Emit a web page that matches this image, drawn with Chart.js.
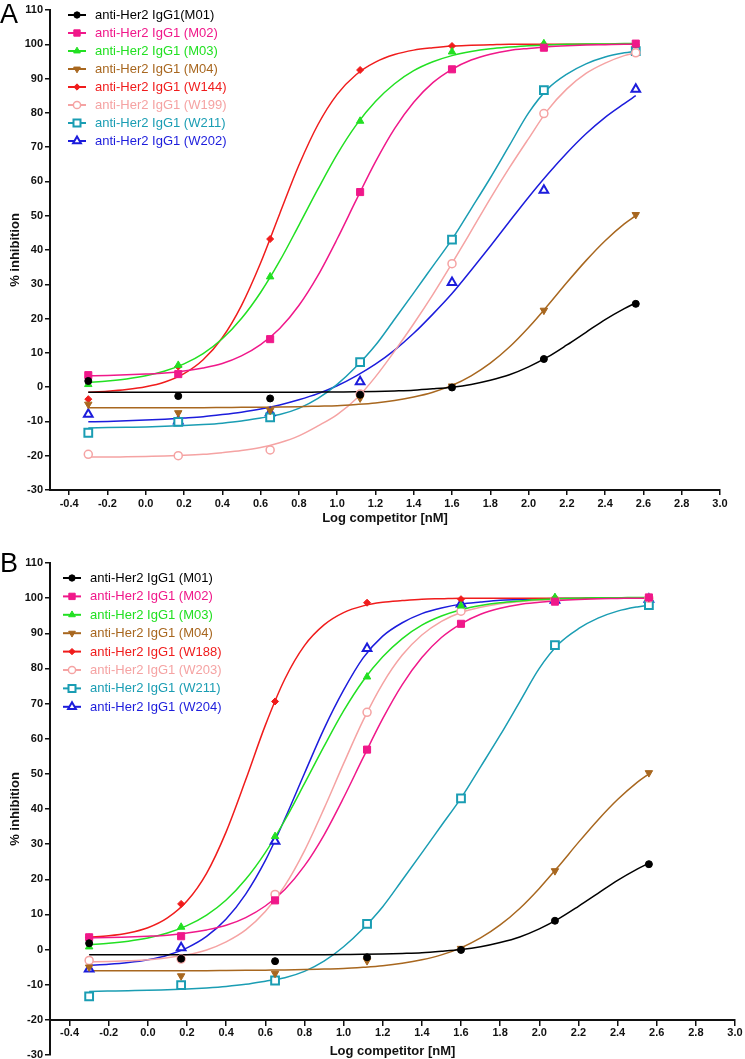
<!DOCTYPE html>
<html lang="en">
<head>
    <meta charset="UTF-8">
    <title>anti-Her2 IgG1 competition</title>
    <script src="https://cdn.jsdelivr.net/npm/chart.js@4.4.0/dist/chart.umd.min.js"></script>
    <style>
        html, body { margin: 0; padding: 0; background: #fff; overflow: hidden; }
        canvas { display: block; }
    </style>
</head>
<body>
    <canvas id="chartA" width="745" height="530"></canvas>
    <canvas id="chartB" width="745" height="535"></canvas>

    <script>
        // x positions (log nM) of the measured points and of the read-off fit curves
        const pointX = [-0.30, 0.17, 0.65, 1.12, 1.60, 2.08, 2.56];
        const curveX = [-0.3, -0.2, -0.1, 0.0, 0.1, 0.2, 0.3, 0.4, 0.5, 0.6, 0.7, 0.8, 0.9, 1.0,
                        1.1, 1.2, 1.3, 1.4, 1.5, 1.6, 1.7, 1.8, 1.9, 2.0, 2.1, 2.2, 2.3, 2.4, 2.5, 2.56];
        const xTickValues = [-0.4, -0.2, 0.0, 0.2, 0.4, 0.6, 0.8, 1.0, 1.2, 1.4, 1.6, 1.8, 2.0, 2.2, 2.4, 2.6, 2.8, 3.0];

        // measured % inhibition
        const m01Pts = [1.8, -2.6, -3.3, -2.2, -0.1, 8.2, 24.3];
        const m02Pts = [3.5, 3.8, 14.0, 56.9, 92.7, 99.0, 100.2];
        const m03Pts = [0.8, 6.4, 32.2, 77.6, 97.8, 100.2, 100.0];
        const m04Pts = [-5.0, -7.5, -6.8, -3.2, 0.3, 22.4, 50.3];
        const w211Pts = [-13.3, -10.1, -8.8, 7.3, 43.0, 86.6, 98.0];
        const w144Pts = [-3.5, 6.0, 43.2, 92.5, 99.5, 100.0, 100.0];
        const w199Pts = [-19.6, -20.0, -18.3, -2.0, 36.0, 79.8, 97.5];
        const w202Pts = [-7.9, -9.9, -7.5, 1.6, 30.5, 57.4, 86.9];
        const w188Pts = [3.5, 13.0, 70.6, 98.7, 99.7, 100.0, 100.0];
        const w203Pts = [-3.1, -2.7, 15.7, 67.5, 96.3, 99.5, 100.0];
        const w204Pts = [-5.5, 0.5, 30.8, 85.7, 98.3, 99.4, 99.7];

        const m01Curve = [-1.5, -1.5, -1.5, -1.5, -1.5, -1.5, -1.5, -1.5, -1.5, -1.5, -1.5, -1.5, -1.45, -1.4,
                          -1.35, -1.25, -1.1, -0.9, -0.5, 0.0, 0.8, 2.0, 3.6, 5.9, 8.8, 12.3, 16.0, 19.7, 22.9, 24.6];
        const m02Curve = [3.3, 3.4, 3.6, 3.8, 4.1, 4.7, 5.6, 6.9, 9.1, 12.4, 17.1, 23.8, 32.6, 43.2,
                          54.6, 65.7, 75.4, 83.1, 88.8, 92.7, 95.4, 97.1, 98.2, 98.8, 99.3, 99.6, 99.8, 99.9, 100, 100];
        const m03Curve = [1.4, 1.8, 2.4, 3.3, 4.7, 6.8, 9.8, 14.1, 20.0, 27.6, 36.8, 47.2, 57.8, 67.9,
                          76.5, 83.3, 88.5, 92.3, 94.9, 96.7, 97.9, 98.7, 99.2, 99.6, 99.8, 100, 100.1, 100.1, 100.2, 100.2];
        const m04Curve = [-6.0, -6.0, -6.0, -6.0, -6.0, -6.0, -6.0, -5.95, -5.9, -5.85, -5.8, -5.7, -5.55, -5.4,
                          -5.05, -4.6, -3.9, -2.9, -1.5, 0.5, 3.3, 7.0, 11.7, 17.4, 23.8, 30.5, 36.9, 42.7, 47.6, 50.0];
        const w211Curve = [-11.9, -11.8, -11.7, -11.6, -11.4, -11.2, -10.9, -10.5, -9.9, -9.0, -8.0, -6.2, -3.3, 0.8,
                           6.0, 12.2, 19.8, 27.5, 35.3, 43.1, 52.0, 61.0, 70.5, 80.0, 87.0, 91.3, 94.3, 96.3, 97.5, 98.0];
        const w144Curve = [-1.5, -1.2, -0.7, 0.1, 1.5, 3.95, 8.0, 14.4, 23.8, 36.2, 50.6, 64.7, 76.6, 85.4,
                           91.2, 94.8, 97.0, 98.3, 99.0, 99.5, 99.7, 99.85, 100, 100, 100, 100, 100, 100, 100, 100];
        const w199Curve = [-20.4, -20.4, -20.3, -20.2, -20.1, -19.9, -19.6, -19.1, -18.5, -17.6, -16.2, -14.2, -11.3, -8.0,
                           -3.4, 3.0, 10.5, 18.5, 27.0, 36.1, 45.5, 55.0, 64.0, 72.5, 80.8, 87.0, 91.5, 94.5, 96.7, 97.5];
        const w202Curve = [-10.1, -10.0, -9.8, -9.6, -9.35, -9.0, -8.6, -8.0, -7.3, -6.4, -5.2, -3.7, -1.9, 0.4,
                           3.3, 6.7, 10.8, 15.7, 21.3, 27.3, 34.1, 41.1, 48.3, 55.4, 62.1, 68.3, 73.9, 78.7, 82.7, 85.0];
        const w188Curve = [3.5, 3.9, 4.7, 6.2, 9.0, 13.8, 21.7, 33.5, 48.3, 63.8, 77.0, 86.5, 92.4, 95.9,
                           97.8, 98.8, 99.3, 99.7, 99.85, 100, 100, 100, 100, 100, 100, 100, 100, 100, 100, 100];
        const w203Curve = [-3.5, -3.4, -3.2, -2.9, -2.3, -1.5, -0.1, 2.2, 5.6, 10.8, 18.2, 28.1, 40.1, 52.9,
                           65.2, 75.7, 83.8, 89.5, 93.4, 95.9, 97.4, 98.4, 99.0, 99.4, 99.6, 99.8, 99.9, 100, 100, 100];
        const w204Curve = [-4.5, -4.2, -3.7, -2.9, -1.6, 0.5, 3.75, 8.7, 15.8, 25.3, 37.2, 50.1, 62.8, 73.8,
                           83.0, 89.2, 93.0, 95.6, 97.2, 98.3, 98.9, 99.4, 99.6, 99.8, 99.9, 99.9, 100, 100, 100, 100];

        const labelsA = ['anti-Her2 IgG1(M01)', 'anti-Her2 IgG1 (M02)', 'anti-Her2 IgG1 (M03)', 'anti-Her2 IgG1 (M04)',
                         'anti-Her2 IgG1 (W144)', 'anti-Her2 IgG1 (W199)', 'anti-Her2 IgG1 (W211)', 'anti-Her2 IgG1 (W202)'];
        const labelsB = ['anti-Her2 IgG1 (M01)', 'anti-Her2 IgG1 (M02)', 'anti-Her2 IgG1 (M03)', 'anti-Her2 IgG1 (M04)',
                         'anti-Her2 IgG1 (W188)', 'anti-Her2 IgG1 (W203)', 'anti-Her2 IgG1 (W211)', 'anti-Her2 IgG1 (W204)'];

        const FONT = '"Liberation Sans", Arial, Helvetica, sans-serif';
        const INK = '#111';

        // marker / colour per legend slot (same in both panels)
        const styles = [
            { color: '#000000', style: 'circle',   radius: 3.5, open: false },
            { color: '#f0188a', style: 'rect',     radius: 5,   open: false },
            { color: '#22e022', style: 'triangle', radius: 4.3, open: false },
            { color: '#a8671f', style: 'triangle', radius: 4.3, open: false, rotation: 180 },
            { color: '#f01c1c', style: 'rectRot',  radius: 3.5, open: false },
            { color: '#f5a3a3', style: 'circle',   radius: 4,   open: true, border: 1.5 },
            { color: '#1a9db3', style: 'rect',     radius: 5.5, open: true, border: 2 },
            { color: '#1c1cdc', style: 'triangle', radius: 5,   open: true, border: 2 }
        ];

        const seriesA = [
            [m01Pts, m01Curve], [m02Pts, m02Curve], [m03Pts, m03Curve], [m04Pts, m04Curve],
            [w144Pts, w144Curve], [w199Pts, w199Curve], [w211Pts, w211Curve], [w202Pts, w202Curve]
        ];
        const seriesB = [
            [m01Pts, m01Curve], [m02Pts, m02Curve], [m03Pts, m03Curve], [m04Pts, m04Curve],
            [w188Pts, w188Curve], [w203Pts, w203Curve], [w211Pts, w211Curve], [w204Pts, w204Curve]
        ];

        function buildDatasets(series, labels) {
            const datasets = [];
            series.forEach(([pts, curve], i) => {
                const s = styles[i];
                datasets.push({
                    label: labels[i] + ' fit',
                    data: curveX.map((x, j) => ({ x: x, y: curve[j] })),
                    borderColor: s.color,
                    borderWidth: 1.5,
                    pointRadius: 0,
                    cubicInterpolationMode: 'monotone',
                    fill: false,
                    order: 2
                });
                datasets.push({
                    label: labels[i],
                    data: pointX.map((x, j) => ({ x: x, y: pts[j] })),
                    showLine: false,
                    pointStyle: s.style,
                    pointRadius: s.radius,
                    pointRotation: s.rotation || 0,
                    pointBackgroundColor: s.open ? '#ffffff' : s.color,
                    pointBorderColor: s.color,
                    pointBorderWidth: s.open ? s.border : 1,
                    order: 1
                });
            });
            return datasets;
        }

        // line + marker legend and the panel letter, drawn on the canvas
        const keyPlugin = {
            id: 'seriesKey',
            afterDraw(chart, args, opts) {
                const ctx = chart.ctx;
                ctx.save();
                ctx.fillStyle = '#000';
                ctx.font = '27px ' + FONT;
                ctx.textBaseline = 'alphabetic';
                ctx.textAlign = 'left';
                ctx.fillText(opts.letter, opts.letterX, opts.letterY);

                opts.labels.forEach((label, i) => {
                    const s = styles[i];
                    const y = opts.top + i * opts.step;
                    ctx.strokeStyle = s.color;
                    ctx.lineWidth = 2;
                    ctx.beginPath();
                    ctx.moveTo(opts.lineX, y);
                    ctx.lineTo(opts.lineX + opts.lineW, y);
                    ctx.stroke();

                    const bw = s.open ? s.border : 1;
                    ctx.lineWidth = bw;
                    ctx.fillStyle = s.open ? '#ffffff' : s.color;
                    Chart.helpers.drawPoint(ctx, {
                        pointStyle: s.style,
                        radius: s.radius * 0.9,
                        rotation: s.rotation || 0,
                        borderWidth: bw
                    }, opts.lineX + opts.lineW / 2, y);

                    ctx.fillStyle = s.color;
                    ctx.font = '13px ' + FONT;
                    ctx.textBaseline = 'middle';
                    ctx.fillText(label, opts.textX, y + 0.5);
                });
                ctx.restore();
            }
        };

        function makeChart(canvasId, series, labels, panel) {
            const tickFont = { family: FONT, size: 11, weight: 'bold' };
            const titleFont = { family: FONT, size: 13, weight: 'bold' };
            return new Chart(document.getElementById(canvasId), {
                type: 'line',
                data: { datasets: buildDatasets(series, labels) },
                options: {
                    responsive: false,
                    animation: false,
                    events: [],
                    layout: { padding: panel.padding },
                    plugins: {
                        legend: { display: false },
                        tooltip: { enabled: false },
                        seriesKey: Object.assign({ labels: labels }, panel.key)
                    },
                    scales: {
                        x: {
                            type: 'linear',
                            position: panel.xPosition,
                            min: -0.5,
                            max: 3.0,
                            afterBuildTicks: scale => { scale.ticks = xTickValues.map(v => ({ value: v })); },
                            afterFit: scale => { scale.height = 40; },
                            ticks: {
                                callback: v => v.toFixed(1),
                                color: INK,
                                font: tickFont,
                                padding: 2,
                                maxRotation: 0,
                                autoSkip: false
                            },
                            grid: { drawOnChartArea: false, drawTicks: true, tickLength: 5, color: INK, lineWidth: 1.5 },
                            border: { color: INK, width: 2 },
                            title: {
                                display: true,
                                text: 'Log competitor [nM]',
                                color: INK,
                                font: titleFont,
                                padding: { top: 0, bottom: panel.xTitlePad }
                            }
                        },
                        y: {
                            min: -30,
                            max: 110,
                            afterFit: scale => { scale.width = 50; },
                            ticks: { stepSize: 10, color: INK, font: tickFont, padding: 2 },
                            grid: { drawOnChartArea: false, drawTicks: true, tickLength: 5, color: INK, lineWidth: 1.5 },
                            border: { color: INK, width: 2 },
                            title: {
                                display: true,
                                text: '% inhibition',
                                color: INK,
                                font: titleFont,
                                padding: { top: 8, bottom: 0 }
                            }
                        }
                    }
                },
                plugins: [keyPlugin]
            });
        }

        makeChart('chartA', seriesA, labelsA, {
            padding: { left: 0, right: 25, top: 10, bottom: 0 },
            xPosition: 'bottom',
            xTitlePad: 4,
            key: { letter: 'A', letterX: 0, letterY: 23, lineX: 68, lineW: 18, textX: 95, top: 15, step: 18 }
        });

        makeChart('chartB', seriesB, labelsB, {
            padding: { left: 0, right: 10, top: 33, bottom: 10 },
            xPosition: { y: -20 },
            xTitlePad: 1,
            key: { letter: 'B', letterX: 0, letterY: 42, lineX: 63, lineW: 18, textX: 90, top: 48, step: 18.4 }
        });
    </script>
</body>
</html>
